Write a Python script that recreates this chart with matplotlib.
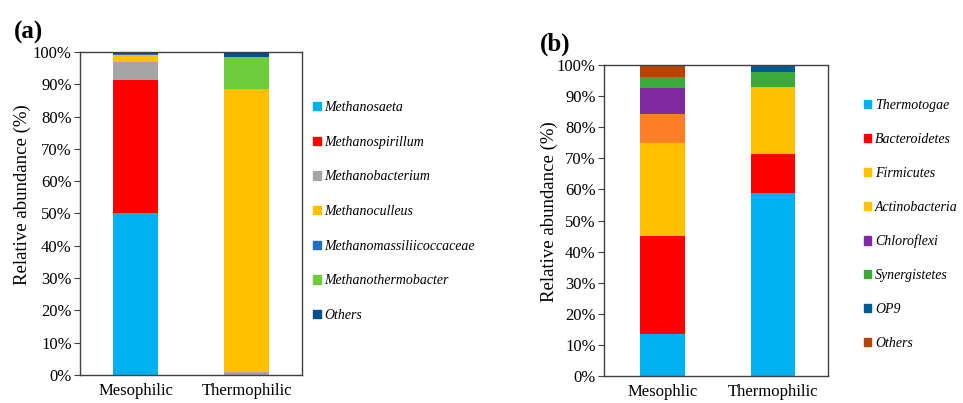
import matplotlib.pyplot as plt
from matplotlib.patches import Patch
import numpy as np

plt.rcParams['font.family'] = ['Liberation Serif', 'DejaVu Serif']

samples_a = ['Mesophilic', 'Thermophilic']
taxa_a = ['Methanosaeta', 'Methanospirillum', 'Methanobacterium', 'Methanoculleus',
          'Methanomassiliicoccaceae', 'Methanothermobacter', 'Others']
vals_a = {
    'Methanosaeta': [50.0, 0.0],
    'Methanospirillum': [41.2, 0.0],
    'Methanobacterium': [5.8, 1.0],
    'Methanoculleus': [2.0, 87.5],
    'Methanomassiliicoccaceae': [0.5, 0.0],
    'Methanothermobacter': [0.0, 10.0],
    'Others': [0.5, 1.5],
}
colors_a = ['#00B0F0', '#FF0000', '#A5A5A5', '#FFC000', '#1F6FC5', '#6DCC3C', '#00508C']

samples_b = ['Mesophlic', 'Thermophilic']
taxa_b = ['Thermotogae', 'Bacteroidetes', 'Firmicutes', 'Actinobacteria',
          'Chloroflexi', 'Synergistetes', 'OP9', 'Others']
vals_b = {
    'Thermotogae': [13.5, 59.0],
    'Bacteroidetes': [31.5, 12.5],
    'Firmicutes': [30.0, 21.5],
    'Actinobacteria': [9.2, 0.0],
    'Chloroflexi': [8.4, 0.0],
    'Synergistetes': [3.6, 4.8],
    'OP9': [0.0, 1.8],
    'Others': [3.8, 0.4],
}
# bar segment colours and legend colours differ for Actinobacteria in the original
colors_b = ['#00B0F0', '#FF0000', '#FFC000', '#FF7F27', '#7F2AA0', '#3AAA3A', '#005A96', '#B84400']
legend_colors_b = ['#00B0F0', '#FF0000', '#FFC000', '#FFC000', '#7F2AA0', '#3AAA3A', '#005A96', '#B84400']

fig = plt.figure(figsize=(9.63, 4.03), dpi=100)
ax1 = fig.add_axes([0.0831, 0.0695, 0.2305, 0.8015])
ax2 = fig.add_axes([0.6272, 0.067, 0.2326, 0.7717])


def stacked(ax, samples, taxa, vals, colors):
    x = np.arange(len(samples))
    bottom = np.zeros(len(samples))
    for t, c in zip(taxa, colors):
        v = np.array(vals[t])
        ax.bar(x, v, 0.4, bottom=bottom, color=c, linewidth=0)
        bottom += v
    ax.set_ylim(0, 100)
    ax.set_yticks(np.arange(0, 101, 10))
    ax.set_yticklabels([f'{v}%' for v in range(0, 101, 10)], fontsize=12)
    ax.set_xticks(x)
    ax.set_xticklabels(samples, fontsize=12)
    ax.tick_params(axis='x', length=0, pad=6)
    ax.tick_params(axis='y', direction='out', length=4, width=0.8, color='#404040', pad=2)
    for s in ax.spines.values():
        s.set_color('#404040')
        s.set_linewidth(1.0)
    ax.set_ylabel('Relative abundance (%)', fontsize=13.5)


stacked(ax1, samples_a, taxa_a, vals_a, colors_a)
ax1.set_xlim(-0.5, 1.5)
ax1.yaxis.set_label_coords(-0.221, 0.557)
stacked(ax2, samples_b, taxa_b, vals_b, colors_b)
ax2.set_xlim(-0.53, 1.5)
ax2.yaxis.set_label_coords(-0.205, 0.527)

hand_a = [Patch(color=c, label=t) for t, c in zip(taxa_a, colors_a)]
fig.legend(handles=hand_a, loc='upper left', bbox_to_anchor=(0.325, 0.749), frameon=False,
           prop={'style': 'italic', 'size': 10}, handlelength=0.55, handleheight=0.55,
           handletextpad=0.25, labelspacing=1.56, borderpad=0, borderaxespad=0)
hand_b = [Patch(color=c, label=t) for t, c in zip(taxa_b, legend_colors_b)]
fig.legend(handles=hand_b, loc='upper left', bbox_to_anchor=(0.897, 0.754), frameon=False,
           prop={'style': 'italic', 'size': 10}, handlelength=0.55, handleheight=0.55,
           handletextpad=0.25, labelspacing=1.5, borderpad=0, borderaxespad=0)

fig.text(0.014, 0.905, '(a)', fontsize=18, fontweight='bold')
fig.text(0.561, 0.875, '(b)', fontsize=18, fontweight='bold')

fig.savefig('out.png', dpi=100)
